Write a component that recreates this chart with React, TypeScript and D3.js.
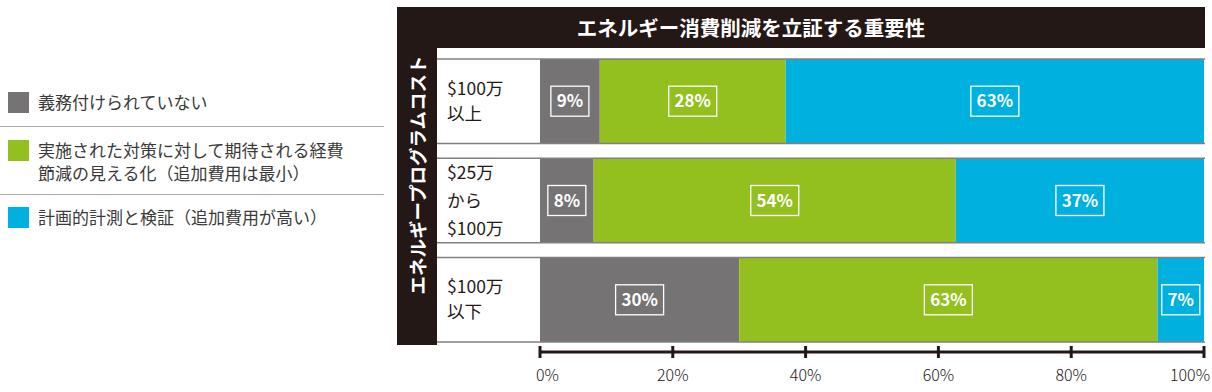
import React from 'react';
import * as d3 from 'd3';

const categories = ['$100万以上', '$25万から$100万', '$100万以下'];
const rowLabels = [['$100万', '以上'], ['$25万', 'から', '$100万'], ['$100万', '以下']];
const notRequired = [9, 8, 30];
const visibility = [28, 54, 63];
const measurement = [63, 37, 7];
const seriesNames = [
  ['義務付けられていない'],
  ['実施された対策に対して期待される経費', '節減の見える化（追加費用は最小）'],
  ['計画的計測と検証（追加費用が高い）'],
];
const ticks = [0, 0.2, 0.4, 0.6, 0.8, 1];
const title = 'エネルギー消費削減を立証する重要性';
const yTitle = 'エネルギープログラムコスト';

const colors = ['#767374', '#93c01f', '#00b1df'];
const dark = '#231815';
const font = '"Noto Sans CJK JP", "Noto Sans", sans-serif';

const App: React.FC = () => {
  const width = 1212;
  const height = 392;

  const x = d3.scaleLinear().domain([0, 1]).range([540, 1204]);
  const y = d3.scaleBand().domain(categories).range([59, 342]).paddingInner(0.15);

  const rows = categories.map((c, i) => {
    const vals = [notRequired[i], visibility[i], measurement[i]];
    const total = d3.sum(vals);
    let acc = 0;
    const segs = vals.map((v, k) => {
      const s = { k, v, x0: acc / total, x1: (acc + v) / total };
      acc += v;
      return s;
    });
    return { c, i, segs };
  });

  const legendY = [92, 140, 207];

  return (
    <svg width={width} height={height} style={{ position: 'absolute', left: 0, top: 0 }} fontFamily={font}>
      {/* legend */}
      {seriesNames.map((lines, i) => (
        <g key={i}>
          <rect x={8} y={legendY[i]} width={21} height={21} fill={colors[i]} />
          {lines.map((l, j) => (
            <text key={j} x={38} y={legendY[i] + 17 + j * 23} fontSize={17} fill="#3a3a3a">{l}</text>
          ))}
        </g>
      ))}
      <line x1={0} x2={384} y1={126.5} y2={126.5} stroke="#aaa" />
      <line x1={0} x2={384} y1={194.5} y2={194.5} stroke="#aaa" />

      {/* frame */}
      <rect x={397} y={7} width={808} height={41} fill={dark} />
      <rect x={397} y={7} width={40} height={338} fill={dark} />
      <text x={751} y={36} textAnchor="middle" fill="#fff" fontSize={20.5} fontWeight={700}>{title}</text>
      <text transform="translate(425,175) rotate(-90)" textAnchor="middle" fill="#fff" fontSize={18.5} fontWeight={700}>{yTitle}</text>

      {/* rows */}
      {rows.map(r => {
        const y0 = y(r.c)!;
        const bw = y.bandwidth();
        return (
          <g key={r.c}>
            {r.segs.map(s => (
              <rect key={s.k} x={x(s.x0)} y={y0} width={x(s.x1) - x(s.x0)} height={bw} fill={colors[s.k]} />
            ))}
            <line x1={437} x2={1205} y1={y0} y2={y0} stroke="#808080" strokeWidth={1.5} />
            <line x1={437} x2={1205} y1={y0 + bw} y2={y0 + bw} stroke="#808080" strokeWidth={1.5} />
            {rowLabels[r.i].map((l, j) => {
              const n = rowLabels[r.i].length;
              const lh = n === 3 ? 28 : 25;
              const cy = y0 + bw / 2 - ((n - 1) * lh) / 2 + j * lh;
              return (
                <text key={j} x={447} y={cy + 6} fontSize={17.5} fill="#231815">{l}</text>
              );
            })}
            {r.segs.map(s => {
              const cx = (x(s.x0) + x(s.x1)) / 2;
              const label = `${s.v}%`;
              const w = label.length * 10 + 18;
              const cy = y0 + bw / 2;
              return (
                <g key={'l' + s.k}>
                  <rect x={cx - w / 2} y={cy - 15} width={w} height={30} fill="none" stroke="#fff" strokeWidth={1.3} />
                  <text x={cx} y={cy + 6} textAnchor="middle" fill="#fff" fontSize={17} fontWeight={700}>{label}</text>
                </g>
              );
            })}
          </g>
        );
      })}

      {/* axis */}
      <line x1={x(0)} x2={x(1)} y1={352} y2={352} stroke={dark} strokeWidth={3} />
      {ticks.map((t, i) => (
        <g key={t}>
          <line x1={x(t)} x2={x(t)} y1={346} y2={358} stroke={dark} strokeWidth={3} />
          <text
            x={i === 0 ? x(t) - 4 : i === ticks.length - 1 ? x(t) + 6 : x(t)}
            y={381}
            textAnchor={i === 0 ? 'start' : i === ticks.length - 1 ? 'end' : 'middle'}
            fontSize={16}
            fontWeight={300}
            fill="#231815"
          >{d3.format('.0%')(t)}</text>
        </g>
      ))}
    </svg>
  );
};

export default App;
